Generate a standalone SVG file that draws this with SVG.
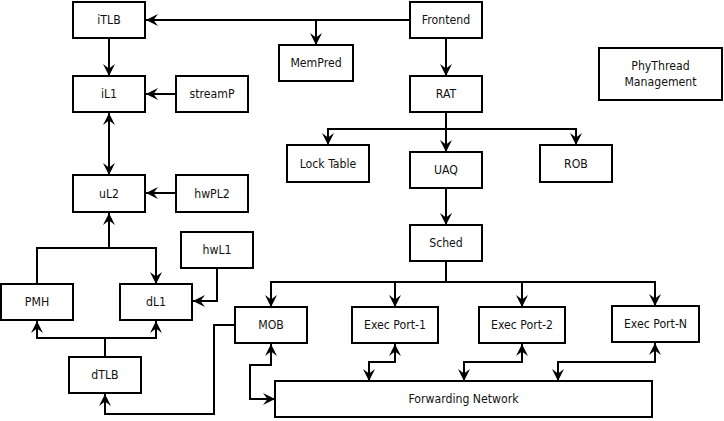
<svg xmlns="http://www.w3.org/2000/svg" width="724" height="421" viewBox="0 0 724 421">
<style>
  .box rect { fill: #ffffff; stroke: #000000; stroke-width: 2; }
  .box text { font-family: "DejaVu Sans Condensed", "DejaVu Sans", Verdana, sans-serif; font-stretch: condensed; font-size: 12.2px; fill: #111111; text-anchor: middle; dominant-baseline: central; }
  #connectors path { fill: none; stroke: #000000; stroke-width: 2; }
  .e { marker-end: url(#arr); }
  .b { marker-start: url(#arr); marker-end: url(#arr); }
</style>
<defs>
  <marker id="arr" viewBox="-13 -7 14 14" refX="0" refY="0" markerWidth="14" markerHeight="14" orient="auto-start-reverse" markerUnits="userSpaceOnUse">
    <path d="M0,0 L-12,-6 L-7.5,0 L-12,6 Z" fill="#000000"/>
  </marker>
</defs>
<rect width="724" height="421" fill="#ffffff"/>
<g id="connectors">
  <path class="e" d="M410,20 H146"/>
  <path class="e" d="M316,20 V45"/>
  <path class="e" d="M446,38 V76"/>
  <path class="e" d="M109,38 V76"/>
  <path class="e" d="M176,94 H146"/>
  <path class="b" d="M109,113 V175"/>
  <path class="e" d="M176,193 H146"/>
  <path class="e" d="M37,284 V248 H156 V284"/>
  <path class="e" d="M109,248 V213"/>
  <path class="e" d="M217,268 V301 H193"/>
  <path class="b" d="M37,321 V338 H156 V321"/>
  <path d="M105,357 V338"/>
  <path class="e" d="M235,325 H214 V414 H105 V394"/>
  <path class="b" d="M271,344 V365 H250 V399 H275"/>
  <path d="M446,112 V129"/>
  <path class="b" d="M328,145 V129 H576 V145"/>
  <path class="e" d="M446,129 V152"/>
  <path class="e" d="M446,188 V225"/>
  <path d="M446,261 V282"/>
  <path class="b" d="M271,307 V282 H655 V306"/>
  <path class="e" d="M395,282 V307"/>
  <path class="e" d="M522,282 V307"/>
  <path class="b" d="M395,344 V362 H369 V381"/>
  <path class="b" d="M522,344 V362 H464 V381"/>
  <path class="b" d="M655,343 V362 H558 V381"/>
</g>
<g id="iTLB" class="box"><rect x="73" y="2" width="72" height="36"/><text x="109" y="20">iTLB</text></g>
<g id="iL1" class="box"><rect x="73" y="76" width="72" height="36"/><text x="109" y="94">iL1</text></g>
<g id="streamP" class="box"><rect x="176" y="76" width="72" height="36"/><text x="212" y="94">streamP</text></g>
<g id="uL2" class="box"><rect x="73" y="175" width="72" height="37"/><text x="109" y="193.5">uL2</text></g>
<g id="hwPL2" class="box"><rect x="176" y="175" width="72" height="37"/><text x="212" y="193.5">hwPL2</text></g>
<g id="PMH" class="box"><rect x="1" y="284" width="72" height="36"/><text x="37" y="302">PMH</text></g>
<g id="dL1" class="box"><rect x="120" y="284" width="72" height="36"/><text x="156" y="302">dL1</text></g>
<g id="hwL1" class="box"><rect x="181" y="232" width="72" height="36"/><text x="217" y="250">hwL1</text></g>
<g id="dTLB" class="box"><rect x="69" y="357" width="72" height="36"/><text x="105" y="375">dTLB</text></g>
<g id="MOB" class="box"><rect x="235" y="307" width="72" height="36"/><text x="271" y="325">MOB</text></g>
<g id="ExecPort1" class="box"><rect x="352" y="307" width="86" height="36"/><text x="395" y="325">Exec Port-1</text></g>
<g id="ExecPort2" class="box"><rect x="479" y="307" width="86" height="36"/><text x="522" y="325">Exec Port-2</text></g>
<g id="ExecPortN" class="box"><rect x="612" y="306" width="87" height="36"/><text x="655.5" y="324">Exec Port-N</text></g>
<g id="ForwardingNetwork" class="box"><rect x="275" y="381" width="377" height="36"/><text x="463.5" y="399">Forwarding Network</text></g>
<g id="Sched" class="box"><rect x="410" y="225" width="72" height="36"/><text x="446" y="243">Sched</text></g>
<g id="UAQ" class="box"><rect x="410" y="152" width="72" height="36"/><text x="446" y="170">UAQ</text></g>
<g id="LockTable" class="box"><rect x="287" y="145" width="82" height="37"/><text x="328" y="163.5">Lock Table</text></g>
<g id="ROB" class="box"><rect x="540" y="145" width="72" height="37"/><text x="576" y="163.5">ROB</text></g>
<g id="RAT" class="box"><rect x="410" y="76" width="72" height="36"/><text x="446" y="94">RAT</text></g>
<g id="Frontend" class="box"><rect x="410" y="2" width="72" height="36"/><text x="446" y="20">Frontend</text></g>
<g id="MemPred" class="box"><rect x="279" y="45" width="74" height="36"/><text x="316" y="63">MemPred</text></g>
<g id="PhyThreadManagement" class="box"><rect x="599" y="48" width="123" height="52"/><text x="660.5" y="66">PhyThread</text><text x="660.5" y="82">Management</text></g>
</svg>
